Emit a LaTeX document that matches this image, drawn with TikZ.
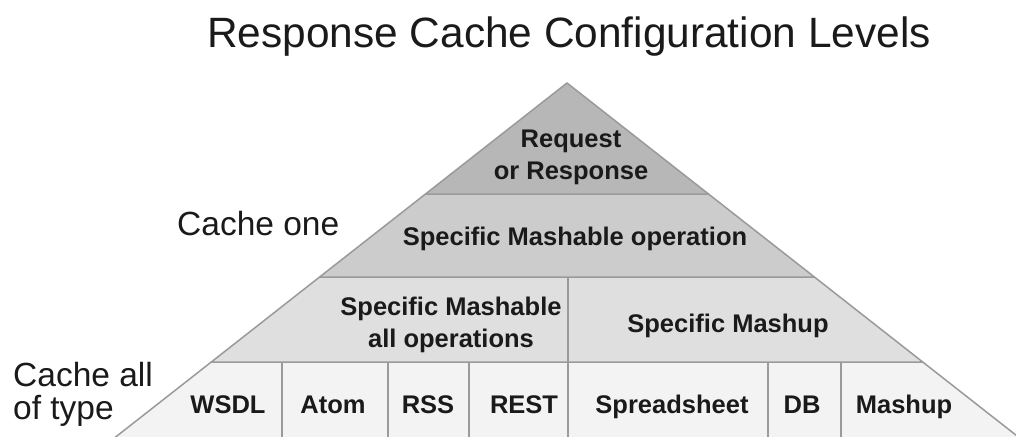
\documentclass[tikz,border=0pt]{standalone}
\usepackage{fontspec}
\setmainfont{Liberation Sans}
\definecolor{edgegrey}{HTML}{9A9A9A}
\definecolor{lvlone}{HTML}{B7B7B7}
\definecolor{lvltwo}{HTML}{CCCCCC}
\definecolor{lvlthree}{HTML}{DFDFDF}
\definecolor{lvlfour}{HTML}{F3F3F3}
\definecolor{textdark}{HTML}{1A1A1A}
\begin{document}
\begin{tikzpicture}[x=1pt,y=-1pt,
  cell/.style={draw=edgegrey, line width=1.5pt, line join=round},
  divider/.style={draw=edgegrey, line width=1.5pt},
  lbl/.style={font=\fontsize{25.5}{32}\selectfont\bfseries, text=textdark, align=center, inner sep=0pt},
  side/.style={font=\fontsize{33.5}{33}\selectfont, text=textdark, align=left, inner sep=0pt},
  titletext/.style={font=\fontsize{42.4}{50}\selectfont, text=textdark, inner sep=0pt}]
\useasboundingbox (0,0) rectangle (1016,436);
\fill[white] (0,0) rectangle (1016,436);
\begin{scope}
\clip (0,0) rectangle (1016,436);
% pyramid levels
\filldraw[cell, fill=lvlfour] (211.3,362) -- (86.3,460) -- (1047.7,460) -- (922.7,362) -- cycle;
\filldraw[cell, fill=lvlthree] (319.6,277) -- (211.3,362) -- (922.7,362) -- (814.4,277) -- cycle;
\filldraw[cell, fill=lvltwo] (425.5,194) -- (319.6,277) -- (814.4,277) -- (708.5,194) -- cycle;
\filldraw[cell, fill=lvlone] (567,83) -- (425.5,194) -- (708.5,194) -- cycle;
% dividers
\draw[divider] (568,277) -- (568,362);
\foreach \xx in {282,388,469,568,768,841}{
  \draw[divider] (\xx,362) -- (\xx,460);
}
\end{scope}
% title
\node[titletext, anchor=base] (title) at (569,48) {Response Cache Configuration Levels};
% level labels
\node[lbl] (reqresp) at (571,157.5) {Request\\or Response};
\node[lbl, anchor=base] (mashop) at (575,245) {Specific Mashable operation};
\node[lbl] (mashall) at (451,324.5) {Specific Mashable\\all operations};
\node[lbl, anchor=base] (mashup) at (728,332) {Specific Mashup};
\node[lbl, anchor=base] (wsdl) at (228,413) {WSDL};
\node[lbl, anchor=base] (atom) at (333,413) {Atom};
\node[lbl, anchor=base] (rss) at (428,413) {RSS};
\node[lbl, anchor=base] (rest) at (524,413) {REST};
\node[lbl, anchor=base] (sheet) at (672,413) {Spreadsheet};
\node[lbl, anchor=base] (db) at (802,413) {DB};
\node[lbl, anchor=base] (mashupt) at (904,413) {Mashup};
% side labels
\node[side, anchor=base west] (cacheone) at (177,235) {Cache one};
\node[side, anchor=west] (cacheall) at (13,394.8) {Cache all\\of type};
\end{tikzpicture}
\end{document}
